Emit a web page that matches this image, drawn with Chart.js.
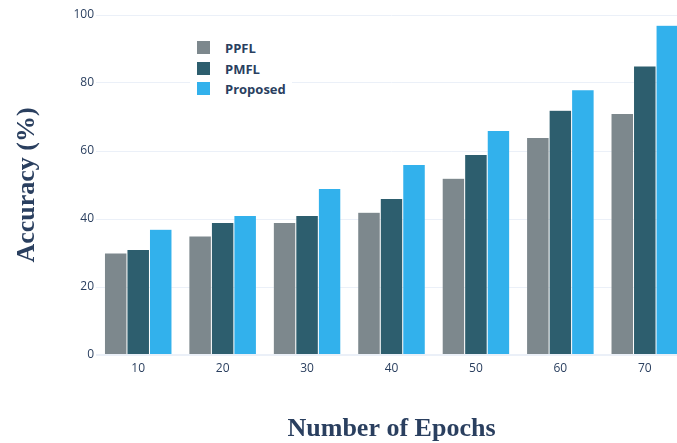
<!DOCTYPE html>
<html>
<head>
<meta charset="utf-8">
<script src="https://cdn.jsdelivr.net/npm/chart.js@4.4.1/dist/chart.umd.min.js"></script>
<style>
  html, body { margin: 0; padding: 0; background: #fff; overflow: hidden; width: 677px; height: 443px; }
  #wrap { position: relative; width: 677px; height: 443px; overflow: hidden; }
  #c { position: absolute; left: 0; top: 0; }
  #legend { position: absolute; left: 190px; top: 36px; width: 102px; height: 65px; background: #fff;
            font-family: "Open Sans", sans-serif; font-weight: 700; font-size: 13px; color: #2a3f5f; }
  .item { position: absolute; left: 0; height: 20px; line-height: 20px; white-space: nowrap; }
  .sw { position: absolute; left: 7px; top: 3px; width: 13px; height: 13px; }
  .lb { position: absolute; left: 35px; top: 0; }
</style>
</head>
<body>
<div id="wrap">
  <canvas id="c" width="720" height="443"></canvas>
  <div id="legend"></div>
</div>
<script>
const categories = ['10', '20', '30', '40', '50', '60', '70'];
const ppfl     = [30, 35, 39, 42, 52, 64, 71];
const pmfl     = [31, 39, 41, 46, 59, 72, 85];
const proposed = [37, 41, 49, 56, 66, 78, 97];
const seriesNames = ['PPFL', 'PMFL', 'Proposed'];
const seriesColors = ['#7d888d', '#2d5e6e', '#32b1ec'];
const yTicks = [0, 20, 40, 60, 80, 100];

const navy = '#2a3f5f';
const gridColor = '#ebf0f8';

const datasets = [ppfl, pmfl, proposed].map((d, i) => ({
  label: seriesNames[i],
  data: d,
  backgroundColor: seriesColors[i],
  borderColor: 'rgba(255,255,255,0.45)',
  borderWidth: 0.5,
  categoryPercentage: 0.8,
  barPercentage: 1.0
}));

new Chart(document.getElementById('c'), {
  type: 'bar',
  data: { labels: categories, datasets },
  options: {
    responsive: false,
    animation: false,
    devicePixelRatio: 1,
    layout: { padding: { left: 0, right: 33, top: 15, bottom: 0 } },
    plugins: { legend: { display: false }, tooltip: { enabled: false } },
    scales: {
      x: {
        grid: { display: false, drawTicks: false },
        border: { display: false },
        ticks: { color: navy, font: { family: 'Open Sans', size: 12 }, padding: 6 },
        title: {
          display: true, text: 'Number of Epochs', color: navy,
          font: { family: 'Liberation Serif', size: 26, weight: 'bold' },
          padding: { top: 0, bottom: -2 }
        },
        afterFit: s => { s.height = 88; }
      },
      y: {
        min: 0, max: 100,
        afterBuildTicks: s => { s.ticks = yTicks.map(v => ({ value: v })); },
        grid: {
          color: gridColor,
          lineWidth: ctx => (ctx.tick && ctx.tick.value === 0 ? 2 : 1),
          drawTicks: false
        },
        border: { display: false },
        ticks: { color: navy, font: { family: 'Open Sans', size: 12 }, padding: 2 },
        title: {
          display: true, text: 'Accuracy (%)', color: navy,
          font: { family: 'Liberation Serif', size: 26, weight: 'bold' },
          padding: { top: 12, bottom: 0 }
        },
        afterFit: s => { s.width = 96; }
      }
    }
  }
});

const lg = document.getElementById('legend');
seriesNames.forEach((n, i) => {
  const it = document.createElement('div');
  it.className = 'item';
  it.style.top = (2 + i * 20.5) + 'px';
  const sw = document.createElement('span');
  sw.className = 'sw';
  sw.style.background = seriesColors[i];
  const lb = document.createElement('span');
  lb.className = 'lb';
  lb.textContent = n;
  it.appendChild(sw); it.appendChild(lb);
  lg.appendChild(it);
});
</script>
</body>
</html>
